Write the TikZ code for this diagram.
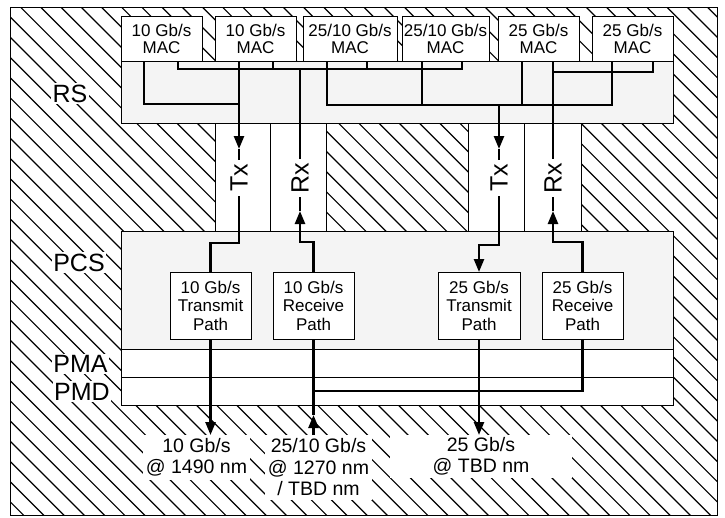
\documentclass[tikz,border=0pt]{standalone}
\usepackage{fontspec}
\setmainfont{Liberation Sans}
\usetikzlibrary{arrows.meta}
\definecolor{layergray}{HTML}{F4F4F4}
\begin{document}
\begin{tikzpicture}[x=1pt,y=-1pt,
  hatch/.style={line width=1.2pt,black},
  layer/.style={draw,line width=1pt,fill=layergray,inner sep=0pt,outer sep=0pt},
  whitelayer/.style={draw,line width=1pt,fill=white,inner sep=0pt,outer sep=0pt},
  macbox/.style={draw,line width=1pt,fill=white,inner sep=0pt,outer sep=0pt,align=center,
    minimum height=45pt,font=\fontsize{17}{17}\selectfont},
  pathbox/.style={draw,line width=1pt,fill=white,inner sep=0pt,outer sep=0pt,align=center,
    minimum height=67pt,font=\fontsize{17}{18.5}\selectfont},
  sidelab/.style={fill=white,inner sep=1.5pt,font=\fontsize{25}{25}\selectfont},
  txrx/.style={inner sep=4pt,font=\fontsize{25}{25}\selectfont},
  botlab/.style={fill=white,inner sep=0pt,outer sep=0pt,align=center,anchor=north,
    font=\fontsize{19.5}{21.5}\selectfont},
  wire/.style={line width=2.4pt,black},
  arr/.style={-{Triangle[length=13pt 0,width=10pt 0]}}
]
\useasboundingbox (0,0) rectangle (725,517);
% hatched background
\begin{scope}
  \clip (10,7) rectangle (717,515);
  \foreach \k in {-26,...,36}
    \draw[hatch] ({-6.8+20.2*\k},0) -- ({-6.8+20.2*\k+517},517);
\end{scope}
\draw[line width=1pt] (10,7) rectangle (717,515);

% layers
\node[layer,minimum width=552pt,minimum height=62pt] (rs) at (397,92) {};
\node[whitelayer,minimum width=55pt,minimum height=108pt] (c1) at (242.5,177) {};
\node[whitelayer,minimum width=56pt,minimum height=108pt] (c2) at (298,177) {};
\node[whitelayer,minimum width=56pt,minimum height=108pt] (c3) at (496,177) {};
\node[whitelayer,minimum width=57pt,minimum height=108pt] (c4) at (552.5,177) {};
\node[layer,minimum width=552pt,minimum height=118pt] (pcs) at (397,290) {};
\node[whitelayer,minimum width=552pt,minimum height=28pt] (pma) at (397,363) {};
\node[whitelayer,minimum width=552pt,minimum height=28pt] (pmd) at (397,391) {};

% MAC boxes
\node[macbox,minimum width=81pt] (mac1) at (161.5,38.5) {10 Gb/s\\MAC};
\node[macbox,minimum width=81pt] (mac2) at (255.5,38.5) {10 Gb/s\\MAC};
\node[macbox,minimum width=94pt] (mac3) at (350,38.5) {25/10 Gb/s\\MAC};
\node[macbox,minimum width=87pt] (mac4) at (445.5,38.5) {25/10 Gb/s\\MAC};
\node[macbox,minimum width=81pt] (mac5) at (538.5,38.5) {25 Gb/s\\MAC};
\node[macbox,minimum width=81pt] (mac6) at (632.5,38.5) {25 Gb/s\\MAC};

% path boxes
\node[pathbox,minimum width=81pt] (tx10) at (210.5,305.5) {10 Gb/s\\Transmit\\Path};
\node[pathbox,minimum width=81pt] (rx10) at (313.5,305.5) {10 Gb/s\\Receive\\Path};
\node[pathbox,minimum width=82pt] (tx25) at (479,305.5) {25 Gb/s\\Transmit\\Path};
\node[pathbox,minimum width=81pt] (rx25) at (582.5,305.5) {25 Gb/s\\Receive\\Path};

% Tx / Rx labels
\node[txrx,rotate=90] (tx1) at (239,178) {Tx};
\node[txrx,rotate=90] (rx1) at (300,178) {Rx};
\node[txrx,rotate=90] (tx2) at (499,178) {Tx};
\node[txrx,rotate=90] (rx2) at (553,178) {Rx};

% side labels
\node[sidelab] (lrs) at (70,93.5) {RS};
\node[sidelab] (lpcs) at (79,262.5) {PCS};
\node[sidelab] (lpma) at (80.5,364) {PMA};
\node[sidelab] (lpmd) at (82,391.5) {PMD};

% bottom labels
\node[botlab,minimum width=107pt,minimum height=45pt] (lab1) at (196.5,435) {10 Gb/s\\@ 1490 nm};
\node[botlab,minimum width=107pt,minimum height=65pt] (lab2) at (318.5,435) {25/10 Gb/s\\@ 1270 nm\\/ TBD nm};
\node[botlab,minimum width=182pt,minimum height=43pt] (lab3) at (481,435) {25 Gb/s\\@ TBD nm};

% 10G receive bus
\draw[wire] (178,0 |- mac1.south) -- (178,69) -- (462,69) -- (462,0 |- mac4.south);
\draw[wire] (273,0 |- mac2.south) -- (273,69);
\draw[wire] (367,0 |- mac3.south) -- (367,69);
\draw[wire] (300,69) -- (rx1);
\draw[wire,arr] (rx10.north) -- (313.5,242) -- (300,242) -- (300,211);
\draw[wire] (300,211) -- (rx1);

% 10G transmit
\draw[wire] (144,0 |- mac1.south) -- (144,104) -- (239,104);
\draw[wire,arr] (239,0 |- mac2.south) -- (239,149);
\draw[wire] (239,149) -- (tx1);
\draw[wire] (tx1) -- (239,243) -- (210.5,243) -- (tx10.north);

% 25G transmit bus
\draw[wire] (327,0 |- mac3.south) -- (327,105) -- (612,105) -- (612,0 |- mac6.south);
\draw[wire] (422,0 |- mac4.south) -- (422,105);
\draw[wire] (522,0 |- mac5.south) -- (522,105);
\draw[wire,arr] (499,105) -- (499,149);
\draw[wire] (499,149) -- (tx2);
\draw[wire,arr] (tx2) -- (499,245) -- (479,245) -- (tx25.north);

% 25G receive
\draw[wire] (653,0 |- mac6.south) -- (653,72) -- (553,72);
\draw[wire] (553,0 |- mac5.south) -- (rx2);
\draw[wire,arr] (rx25.north) -- (582.5,242) -- (553,242) -- (553,211);
\draw[wire] (553,211) -- (rx2);

% lower connections
\draw[wire,arr] (tx10.south) -- (tx10.south |- lab1.north);
\draw[wire,arr] (rx10.south |- lab2.north) -- (313.5,415);
\draw[wire] (313.5,415) -- (rx10.south);
\draw[wire] (rx25.south) -- (582.5,391) -- (313.5,391);
\draw[wire,arr] (tx25.south) -- (tx25.south |- lab3.north);
\end{tikzpicture}
\end{document}
